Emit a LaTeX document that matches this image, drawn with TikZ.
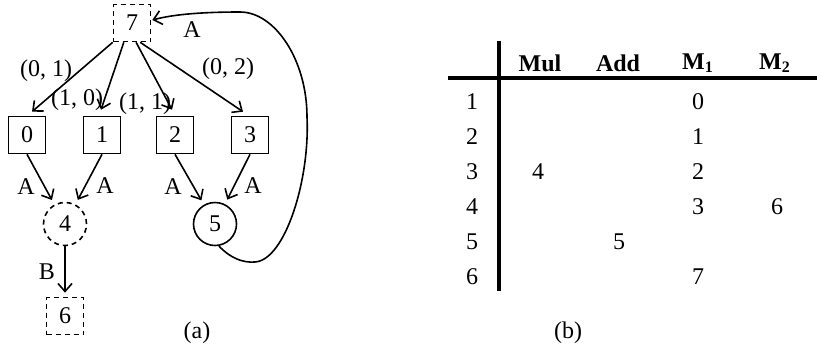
\documentclass[tikz,border=0pt]{standalone}
\usepackage{fontspec}
\setmainfont{Liberation Serif}
\usetikzlibrary{arrows.meta,calc}
\begin{document}
\begin{tikzpicture}[x=0.5pt,y=-0.5pt,
  font=\fontsize{12pt}{14pt}\selectfont,
  every path/.style={line width=0.8pt},
  tip/.style={-{Straight Barb[length=4pt,width=7pt,line width=0.8pt]}},
  dsh/.style={dash pattern=on 2.5pt off 2pt},
  sq/.style={draw,rectangle,minimum size=18.5pt,inner sep=0pt},
  cir/.style={draw,circle,minimum size=21.5pt,inner sep=0pt},
  lbl/.style={inner sep=0pt},
  rule/.style={line width=2.4pt}]
\useasboundingbox (0,0) rectangle (817,360);
% graph nodes
\node[sq,dsh] (n7) at (132,23) {7};
\node[sq] (n0) at (27,135) {0};
\node[sq] (n1) at (102,135) {1};
\node[sq] (n2) at (175,135) {2};
\node[sq] (n3) at (250,135) {3};
\node[cir,dsh] (n4) at (65,224) {4};
\node[cir] (n5) at (215,224) {5};
\node[sq,dsh] (n6) at (65,316) {6};
% edges from 7
\draw[tip] (n7.south west) -- ($(n0.north)+(5,-4)$);
\draw[tip] (n7.-113) -- ($(n1.north)+(-1,-6)$);
\draw[tip] (n7.-78) -- ($(n2.north)+(-3,-6)$);
\draw[tip] (n7.-67) -- ($(n3.north)+(-7,-4)$);
\node[lbl] (l01) at (46,71) {(0, 1)};
\node[lbl] (l10) at (77,100) {(1, 0)};
\node[lbl] (l11) at (145,104) {(1, 1)};
\node[lbl] (l02) at (228,69) {(0, 2)};
% edges to 4 and 5
\draw[tip,shorten >=2.5pt] (n0.south) -- (n4);
\draw[tip,shorten >=2.5pt] (n1.south) -- (n4);
\draw[tip,shorten >=2.5pt] (n2.south) -- (n5);
\draw[tip,shorten >=2.5pt] (n3.south) -- (n5);
\node[lbl] (la1) at (26,187) {A};
\node[lbl] (la2) at (105,186) {A};
\node[lbl] (la3) at (173,187) {A};
\node[lbl] (la4) at (253,186) {A};
% 4 -> 6
\draw[tip,shorten >=2pt] (n4.south) -- (n6.north);
\node[lbl] (lb) at (47,272) {B};
% loop 5 -> 7
\draw[tip] (n5.-80) .. controls (230,258) and (243,263) .. (255,262)
  .. controls (285,260) and (310,180) .. (307,117)
  .. controls (307,60) and (275,12) .. (240,12)
  .. controls (205,12) and (175,14) .. ($(n7.east)+(1,-3)$);
\node[lbl] (la5) at (192,30) {A};
\node (capa) at (197,333) {(a)};
% table
\coordinate (vt) at (499,41);
\coordinate (vb) at (499,291);
\coordinate (hl) at (448,78);
\coordinate (hr) at (817,78);
\draw[rule] (vt) -- (vb);
\draw[rule] (hl) -- (hr);
\node (hmul) at (540,63) {\textbf{Mul}};
\node (hadd) at (618,63) {\textbf{Add}};
\node (hm1) at (698,63) {\textbf{M\textsubscript{1}}};
\node (hm2) at (775,63) {\textbf{M\textsubscript{2}}};
\node (r1) at (472,102) {1};
\node (r2) at (472,137) {2};
\node (r3) at (472,172) {3};
\node (r4) at (472,207) {4};
\node (r5) at (472,242) {5};
\node (r6) at (472,277) {6};
\node (c10) at (698,102) {0};
\node (c21) at (698,137) {1};
\node (c34) at (538,172) {4};
\node (c32) at (698,172) {2};
\node (c43) at (698,207) {3};
\node (c46) at (777,207) {6};
\node (c55) at (619,242) {5};
\node (c67) at (698,277) {7};
\node (capb) at (568,333) {(b)};
\end{tikzpicture}
\end{document}
